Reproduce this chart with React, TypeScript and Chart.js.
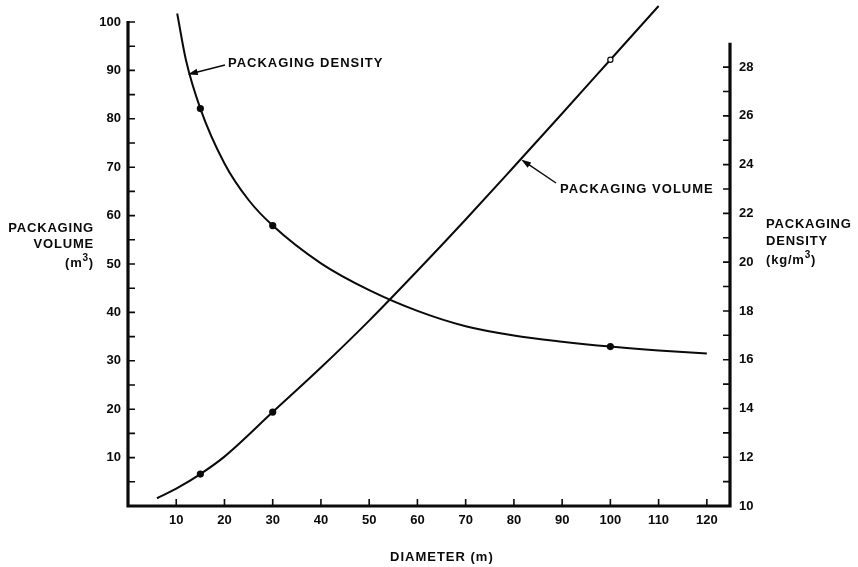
import React, { useEffect, useRef } from 'react';
import { Chart, registerables } from 'chart.js';

Chart.register(...registerables);

// Packaging volume (m^3) vs diameter (m)
const volumeDiameters = [6, 10, 15, 20, 30, 40, 50, 60, 70, 80, 90, 100, 110];
const volumeValues = [1.6, 3.6, 6.6, 10.2, 19.4, 28.6, 38.3, 48.6, 59.2, 70.1, 81.1, 92.2, 103.3];
const volumeMarkerDiameters = [15, 30];
const volumeOpenMarkerDiameters = [100];

// Packaging density (kg/m^3) vs diameter (m)
const densityDiameters = [10.2, 12, 15, 20, 25, 30, 40, 50, 60, 70, 80, 90, 100, 110, 120];
const densityValues = [30.2, 28.3, 26.3, 24.05, 22.55, 21.5, 19.95, 18.85, 18.0, 17.37, 16.99, 16.74, 16.54, 16.38, 16.25];
const densityMarkerDiameters = [15, 30, 100];

// Axis ticks
const diameterTicks = [10, 20, 30, 40, 50, 60, 70, 80, 90, 100, 110, 120];
const volumeMinorTicks = [5, 10, 15, 20, 25, 30, 35, 40, 45, 50, 55, 60, 65, 70, 75, 80, 85, 90, 95, 100];
const densityMinorTicks = [11, 12, 13, 14, 15, 16, 17, 18, 19, 20, 21, 22, 23, 24, 25, 26, 27, 28];

// Text
const leftTitle = ['PACKAGING', 'VOLUME'];
const rightTitle = ['PACKAGING', 'DENSITY'];
const xTitle = 'DIAMETER (m)';
const densityNote = 'PACKAGING DENSITY';
const volumeNote = 'PACKAGING VOLUME';

const FONT = '"Liberation Sans", Arial, Helvetica, sans-serif';
const INK = '#0a0a0a';

function drawSup(ctx: CanvasRenderingContext2D, parts: { t: string; sup?: boolean }[], x: number, y: number, align: 'left' | 'right') {
  const widths = parts.map((p) => {
    ctx.font = p.sup ? `bold 10px ${FONT}` : `bold 13px ${FONT}`;
    return ctx.measureText(p.t).width;
  });
  const total = widths.reduce((a, b) => a + b, 0);
  let cx = align === 'right' ? x - total : x;
  ctx.textAlign = 'left';
  ctx.textBaseline = 'middle';
  parts.forEach((p, i) => {
    ctx.font = p.sup ? `bold 10px ${FONT}` : `bold 13px ${FONT}`;
    ctx.fillText(p.t, cx, p.sup ? y - 5 : y);
    cx += widths[i];
  });
}

function arrow(ctx: CanvasRenderingContext2D, fx: number, fy: number, tx: number, ty: number) {
  const ang = Math.atan2(ty - fy, tx - fx);
  const len = 10;
  const hw = 3.2;
  ctx.lineWidth = 1.4;
  ctx.beginPath();
  ctx.moveTo(fx, fy);
  ctx.lineTo(tx - Math.cos(ang) * len * 0.8, ty - Math.sin(ang) * len * 0.8);
  ctx.stroke();
  ctx.beginPath();
  ctx.moveTo(tx, ty);
  ctx.lineTo(tx - Math.cos(ang) * len - Math.sin(ang) * hw, ty - Math.sin(ang) * len + Math.cos(ang) * hw);
  ctx.lineTo(tx - Math.cos(ang) * len + Math.sin(ang) * hw, ty - Math.sin(ang) * len - Math.cos(ang) * hw);
  ctx.closePath();
  ctx.fill();
}

const decorPlugin = {
  id: 'decor',
  afterDraw(chart: any) {
    const ctx: CanvasRenderingContext2D = chart.ctx;
    const xs = chart.scales.x;
    const yl = chart.scales.yVol;
    const yr = chart.scales.yDen;
    const left = xs.left;
    const right = xs.right;
    const bottom = yl.bottom;
    ctx.save();
    ctx.strokeStyle = INK;
    ctx.fillStyle = INK;
    ctx.lineCap = 'butt';
    ctx.lineJoin = 'miter';

    // axes
    ctx.lineWidth = 3.2;
    ctx.beginPath();
    ctx.moveTo(left, yl.getPixelForValue(100) - 1);
    ctx.lineTo(left, bottom);
    ctx.lineTo(right, bottom);
    ctx.lineTo(right, yr.getPixelForValue(29));
    ctx.stroke();

    // tick marks (inside)
    ctx.lineWidth = 1.6;
    ctx.beginPath();
    volumeMinorTicks.forEach((v) => {
      const y = yl.getPixelForValue(v);
      ctx.moveTo(left, y);
      ctx.lineTo(left + 7, y);
    });
    densityMinorTicks.forEach((v) => {
      const y = yr.getPixelForValue(v);
      ctx.moveTo(right, y);
      ctx.lineTo(right - 7, y);
    });
    diameterTicks.forEach((d) => {
      const x = xs.getPixelForValue(d);
      ctx.moveTo(x, bottom);
      ctx.lineTo(x, bottom - 7);
    });
    ctx.stroke();

    // titles
    (ctx as any).letterSpacing = '0.8px';
    ctx.font = `bold 13px ${FONT}`;
    ctx.textBaseline = 'middle';
    ctx.textAlign = 'right';
    ctx.fillText(leftTitle[0], 94, 228);
    ctx.fillText(leftTitle[1], 94, 244);
    drawSup(ctx, [{ t: '(m' }, { t: '3', sup: true }, { t: ')' }], 94, 263, 'right');

    ctx.font = `bold 13px ${FONT}`;
    ctx.textAlign = 'left';
    ctx.fillText(rightTitle[0], 766, 224);
    ctx.fillText(rightTitle[1], 766, 241);
    drawSup(ctx, [{ t: '(kg/m' }, { t: '3', sup: true }, { t: ')' }], 766, 260, 'left');

    ctx.font = `bold 13px ${FONT}`;
    (ctx as any).letterSpacing = '1px';
    ctx.textAlign = 'left';
    ctx.fillText(xTitle, 390, 557);

    // notes
    ctx.fillText(densityNote, 228, 63);
    ctx.fillText(volumeNote, 560, 189);
    (ctx as any).letterSpacing = '0px';

    arrow(ctx, 225, 65, xs.getPixelForValue(12.4), yr.getPixelForValue(27.7));
    arrow(ctx, 556, 183, xs.getPixelForValue(81.5), yl.getPixelForValue(71.6));

    ctx.restore();
  },
};

export default function App() {
  const ref = useRef<HTMLCanvasElement>(null);
  useEffect(() => {
    if (!ref.current) return;
    const tickFont = { family: FONT, size: 13, weight: 'bold' as const };
    const chart = new Chart(ref.current, {
      type: 'line',
      data: {
        datasets: [
          {
            label: 'Packaging volume',
            data: volumeDiameters.map((d, i) => ({ x: d, y: volumeValues[i] })),
            yAxisID: 'yVol',
            borderColor: INK,
            borderWidth: 2,
            cubicInterpolationMode: 'monotone',
            clip: false as any,
            pointRadius: volumeDiameters.map((d) =>
              volumeMarkerDiameters.includes(d) ? 3.6 : volumeOpenMarkerDiameters.includes(d) ? 2.6 : 0
            ),
            pointBackgroundColor: volumeDiameters.map((d) => (volumeOpenMarkerDiameters.includes(d) ? '#ffffff' : INK)),
            pointBorderColor: INK,
            pointBorderWidth: volumeDiameters.map((d) => (volumeOpenMarkerDiameters.includes(d) ? 1.2 : 0)),
          },
          {
            label: 'Packaging density',
            data: densityDiameters.map((d, i) => ({ x: d, y: densityValues[i] })),
            yAxisID: 'yDen',
            borderColor: INK,
            borderWidth: 2,
            cubicInterpolationMode: 'monotone',
            clip: false as any,
            pointRadius: densityDiameters.map((d) => (densityMarkerDiameters.includes(d) ? 3.6 : 0)),
            pointBackgroundColor: INK,
            pointBorderWidth: 0,
          },
        ],
      },
      options: {
        animation: false,
        responsive: true,
        maintainAspectRatio: false,
        layout: { padding: { top: 22, left: 0, right: 0, bottom: 0 } },
        plugins: { legend: { display: false }, tooltip: { enabled: false } },
        scales: {
          x: {
            type: 'linear',
            position: 'bottom',
            min: 0,
            max: 124.8,
            grid: { display: false, drawTicks: false },
            border: { display: false },
            afterFit: (s: any) => {
              s.height = 61;
            },
            ticks: {
              stepSize: 10,
              includeBounds: false,
              autoSkip: false,
              maxRotation: 0,
              padding: 7,
              color: INK,
              font: tickFont,
              callback: (v: any) => (diameterTicks.includes(Number(v)) ? String(v) : ''),
            },
          },
          yVol: {
            type: 'linear',
            position: 'left',
            min: 0,
            max: 100,
            grid: { display: false, drawTicks: false },
            border: { display: false },
            afterFit: (s: any) => {
              s.width = 128;
            },
            ticks: {
              stepSize: 10,
              includeBounds: false,
              autoSkip: false,
              padding: 7,
              color: INK,
              font: tickFont,
              callback: (v: any) => (Number(v) > 0 ? String(v) : ''),
            },
          },
          yDen: {
            type: 'linear',
            position: 'right',
            min: 10,
            max: 29.85,
            grid: { display: false, drawTicks: false },
            border: { display: false },
            afterFit: (s: any) => {
              s.width = 128;
            },
            ticks: {
              stepSize: 2,
              includeBounds: false,
              autoSkip: false,
              padding: 9,
              color: INK,
              font: tickFont,
              callback: (v: any) => (Number(v) % 2 === 0 && Number(v) <= 28 ? String(v) : ''),
            },
          },
        },
      },
      plugins: [decorPlugin],
    });
    return () => chart.destroy();
  }, []);

  return (
    <div style={{ position: 'fixed', left: 0, top: 0, width: 858, height: 567, background: '#fff' }}>
      <canvas ref={ref} />
    </div>
  );
}
